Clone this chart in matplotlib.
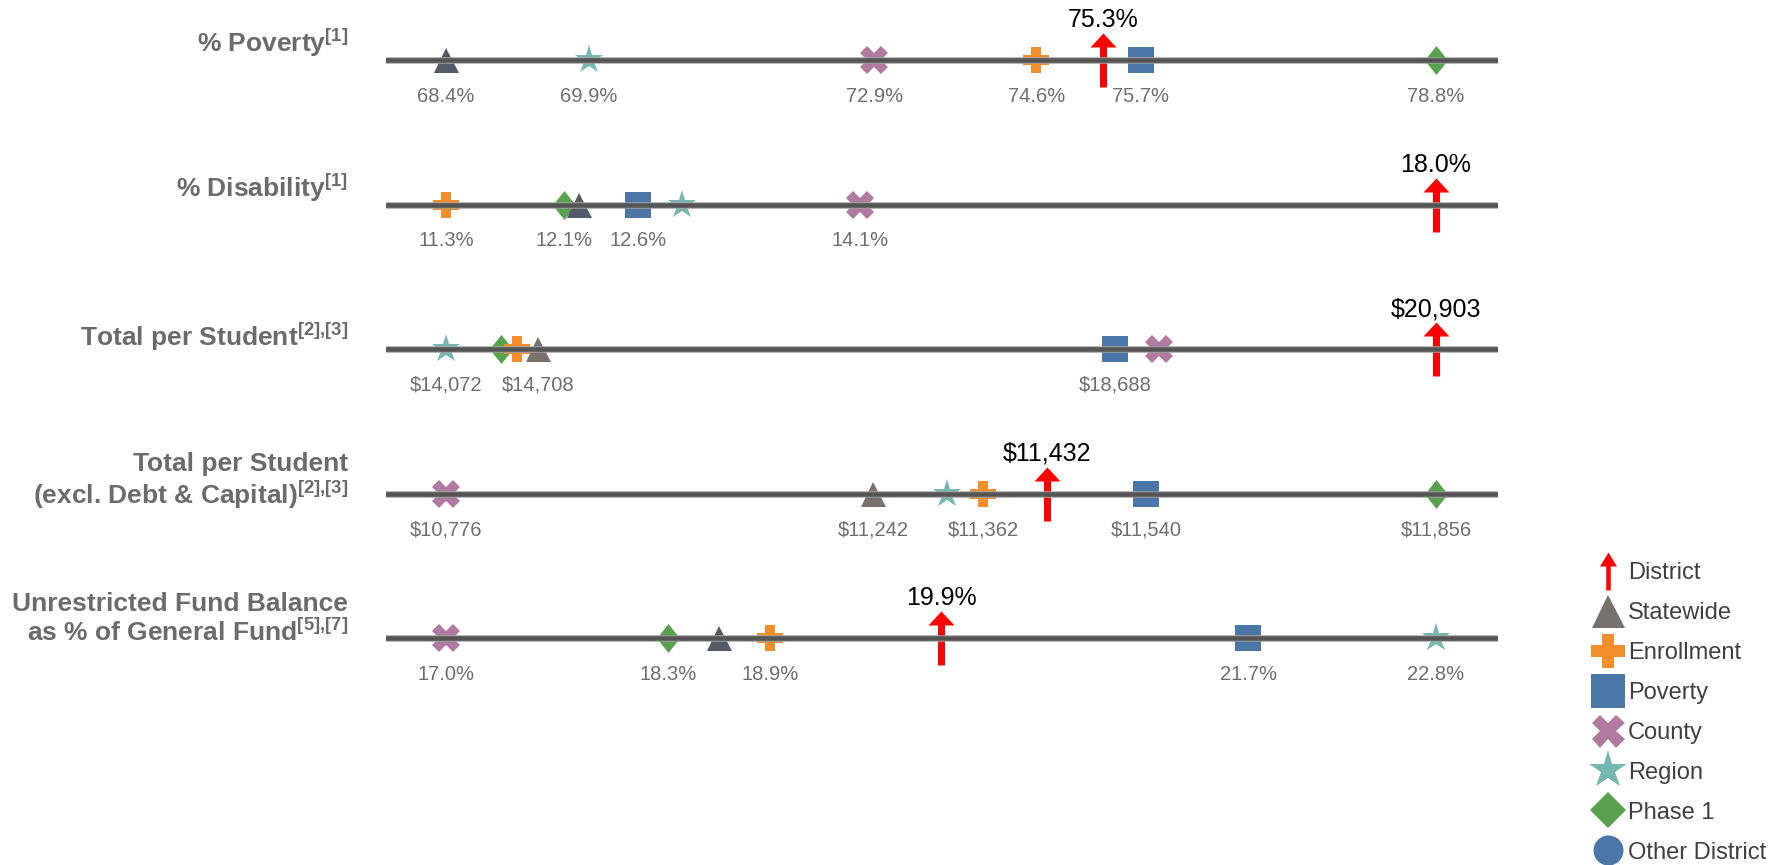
import matplotlib.pyplot as plt
from matplotlib.lines import Line2D
from matplotlib.path import Path

plt.rcParams['font.family'] = ['Liberation Sans', 'DejaVu Sans']
# superscript footnote marks are set in mathtext, keep them in the bold sans face
plt.rcParams['mathtext.fontset'] = 'custom'
plt.rcParams['mathtext.rm'] = 'Liberation Sans:bold'
plt.rcParams['mathtext.it'] = 'Liberation Sans:bold'
plt.rcParams['mathtext.bf'] = 'Liberation Sans:bold'

# Rows, top to bottom
metrics = ['% Poverty$^{[1]}$',
           '% Disability$^{[1]}$',
           'Total per Student$^{[2]{,}[3]}$',
           'Total per Student\n(excl. Debt & Capital)$^{[2]{,}[3]}$',
           'Unrestricted Fund Balance\nas % of General Fund$^{[5]{,}[7]}$']
units = ['pct', 'pct', 'usd', 'usd', 'pct']

# Values per comparison group, one entry per row
district = [75.3, 18.0, 20903, 11432, 19.9]
statewide = [68.4, 12.2, 14708, 11242, 18.6]
enrollment = [74.6, 11.3, 14565, 11362, 18.9]
poverty = [75.7, 12.6, 18688, 11540, 21.7]
county = [72.9, 14.1, 18990, 10776, 17.0]
region = [69.9, 12.9, 14072, 11322, 22.8]
phase1 = [78.8, 12.1, 14450, 11856, 18.3]

# Which group values get a printed label on each row
show_statewide = [True, False, True, True, False]
show_enrollment = [True, True, False, True, True]
show_poverty = [True, True, True, True, True]
show_county = [True, True, False, True, True]
show_region = [True, False, True, False, True]
show_phase1 = [True, True, False, True, True]


def fmt(v, unit):
    if unit == 'pct':
        return f'{v:.1f}%'
    return f'${v:,.0f}'


def closed(verts):
    verts = list(verts) + [verts[0]]
    return Path(verts, [Path.MOVETO] + [Path.LINETO] * (len(verts) - 2) + [Path.CLOSEPOLY])


def arrow_marker(length, head_w, head_h, shaft_w):
    h = length / 2
    return closed([(0, h), (head_w / 2, h - head_h), (shaft_w / 2, h - head_h),
                   (shaft_w / 2, -h), (-shaft_w / 2, -h), (-shaft_w / 2, h - head_h),
                   (-head_w / 2, h - head_h)])


def plus_marker(arm):
    a = arm / 2
    return closed([(-a, -0.5), (a, -0.5), (a, -a), (0.5, -a), (0.5, a), (a, a),
                   (a, 0.5), (-a, 0.5), (-a, a), (-0.5, a), (-0.5, -a), (-a, -a)])


tall_diamond = closed([(0, 0.5), (0.4, 0), (0, -0.5), (-0.4, 0)])
thick_plus = plus_marker(0.36)
row_arrow = arrow_marker(54, 26, 14, 7)
key_arrow = arrow_marker(38, 17, 14, 4.5)

PX = 0.72  # points per pixel at 100 dpi

RED = '#FF0000'
STATE_DARK = '#535B68'
STATE_GREY = '#7A716F'
ORANGE = '#F28E2B'
BLUE = '#4A76A8'
PURPLE = '#B07AA1'
TEAL = '#76B7B2'
GREEN = '#59A14F'
LINE = '#555555'
LABEL = '#6E6E6E'

statewide_colors = [STATE_DARK, STATE_DARK, STATE_GREY, STATE_GREY, STATE_DARK]

# drawing order matters where markers overlap
groups = [
    (phase1, show_phase1, tall_diamond, GREEN, 29),
    (region, show_region, '*', TEAL, 30),
    (county, show_county, 'X', PURPLE, 28),
    (poverty, show_poverty, 's', BLUE, 27),
    (enrollment, show_enrollment, thick_plus, ORANGE, 27),
    (statewide, show_statewide, '^', None, 25),
]

W, H = 1779, 865
fig = plt.figure(figsize=(W / 100, H / 100), dpi=100)
fig.patch.set_facecolor('white')

# x is each row's value rescaled to 0..1 between its lowest and highest value
ax = fig.add_axes([386 / W, 0, (1498 - 386) / W, 1])
ax.set_xlim(-60 / 990, 1 + 62 / 990)
pitch = 144.5
ax.set_ylim((H - 60) / pitch, -60 / pitch)
ax.axis('off')

label_shift = [-17, -17, -12, -12, -19]

for r in range(len(metrics)):
    vals = [g[0][r] for g in groups] + [district[r]]
    lo, hi = min(vals), max(vals)

    def norm(v):
        return (v - lo) / (hi - lo)

    # the rule sits on top of the markers
    ax.axhline(r, color='#A0A0A0', lw=6.5 * PX, zorder=5)
    ax.axhline(r, color=LINE, lw=4.5 * PX, zorder=6)

    for vals_g, shown, marker, color, size in groups:
        c = color if color else statewide_colors[r]
        x = norm(vals_g[r])
        ax.plot([x], [r], marker=marker, ms=size * PX, color=c, mew=0,
                linestyle='none', zorder=3)
        if shown[r]:
            ax.annotate(fmt(vals_g[r], units[r]), (x, r), xytext=(0, -36 * PX),
                        textcoords='offset points', ha='center', va='center',
                        fontsize=14.5, color=LABEL)

    xd = norm(district[r])
    ax.plot([xd], [r], marker=row_arrow, ms=54 * PX, color=RED, mew=0,
            linestyle='none', zorder=4)
    ax.annotate(fmt(district[r], units[r]), (xd, r), xytext=(0, 40 * PX),
                textcoords='offset points', ha='center', va='center',
                fontsize=18, color='black')

    ax.annotate(metrics[r], (348 / W, r), xycoords=('figure fraction', 'data'),
                xytext=(0, -label_shift[r] * PX), textcoords='offset points',
                ha='right', va='center', multialignment='right',
                fontsize=19, fontweight='bold', color='#6B6B6B', linespacing=1.15)

handles = [
    Line2D([], [], marker=key_arrow, ms=38 * PX, color=RED, mew=0, ls='none'),
    Line2D([], [], marker='^', ms=33 * PX, color='#76706F', mew=0, ls='none'),
    Line2D([], [], marker=thick_plus, ms=34 * PX, color=ORANGE, mew=0, ls='none'),
    Line2D([], [], marker='s', ms=34 * PX, color=BLUE, mew=0, ls='none'),
    Line2D([], [], marker='X', ms=33 * PX, color=PURPLE, mew=0, ls='none'),
    Line2D([], [], marker='*', ms=40 * PX, color=TEAL, mew=0, ls='none'),
    Line2D([], [], marker='D', ms=26 * PX, color=GREEN, mew=0, ls='none'),
    Line2D([], [], marker='o', ms=30 * PX, color=BLUE, mew=0, ls='none'),
]
names = ['District', 'Statewide', 'Enrollment', 'Poverty', 'County', 'Region',
         'Phase 1', 'Other District']
fig.legend(handles, names, loc='upper left', bbox_to_anchor=(1596 / W, 1 - 562 / H),
           frameon=False, fontsize=17, labelcolor='#404040', handlelength=1.0,
           handletextpad=0.35, labelspacing=0.76, borderpad=0, borderaxespad=0)

fig.savefig('out.png', dpi=100, facecolor='white')
